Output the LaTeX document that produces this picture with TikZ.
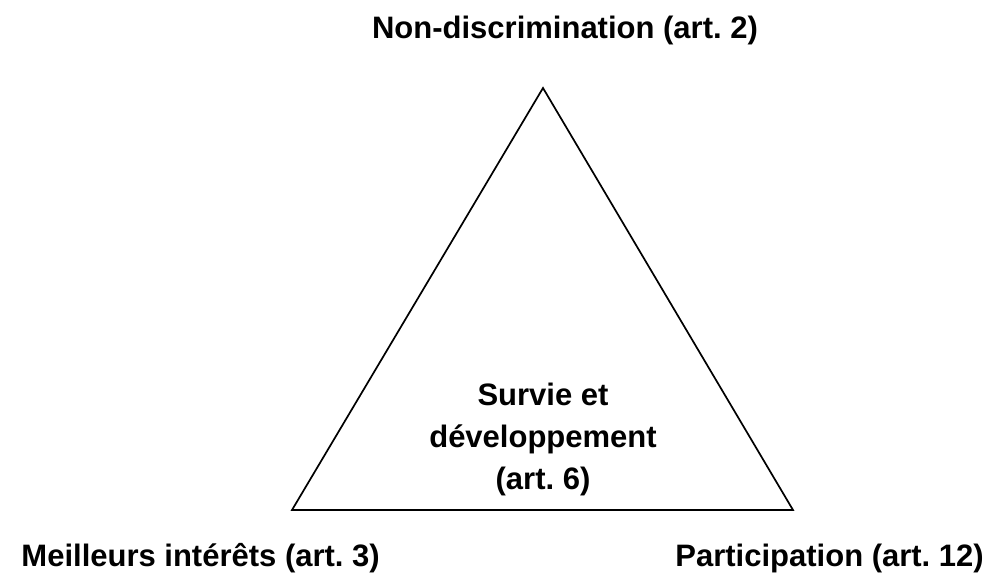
\documentclass[tikz,border=0pt]{standalone}
\usepackage{fontspec}
\setmainfont{Liberation Sans}
\frenchspacing
\begin{document}
\begin{tikzpicture}[x=1pt,y=-1pt,
  lbl/.style={font=\bfseries\fontsize{31}{42}\selectfont, inner sep=0pt},
  tri/.style={draw=black, line width=1.7pt, line join=miter}]
\useasboundingbox (0,0) rectangle (997,583);
\coordinate (apex) at (543,88);
\coordinate (bl) at (292,510);
\coordinate (br) at (793,510);
\draw[tri] (apex) -- (bl) -- (br) -- cycle;
\node[lbl, anchor=base] (top) at (565,39) {Non-discrimination (art. 2)};
\node[lbl, anchor=base east] (left) at (380,566) {Meilleurs intérêts (art. 3)};
\node[lbl, anchor=base east] (right) at (984,566) {Participation (art. 12)};
\node[lbl, align=center, anchor=base] (mid) at (543,489) {Survie et\\développement\\(art. 6)};
\end{tikzpicture}
\end{document}
